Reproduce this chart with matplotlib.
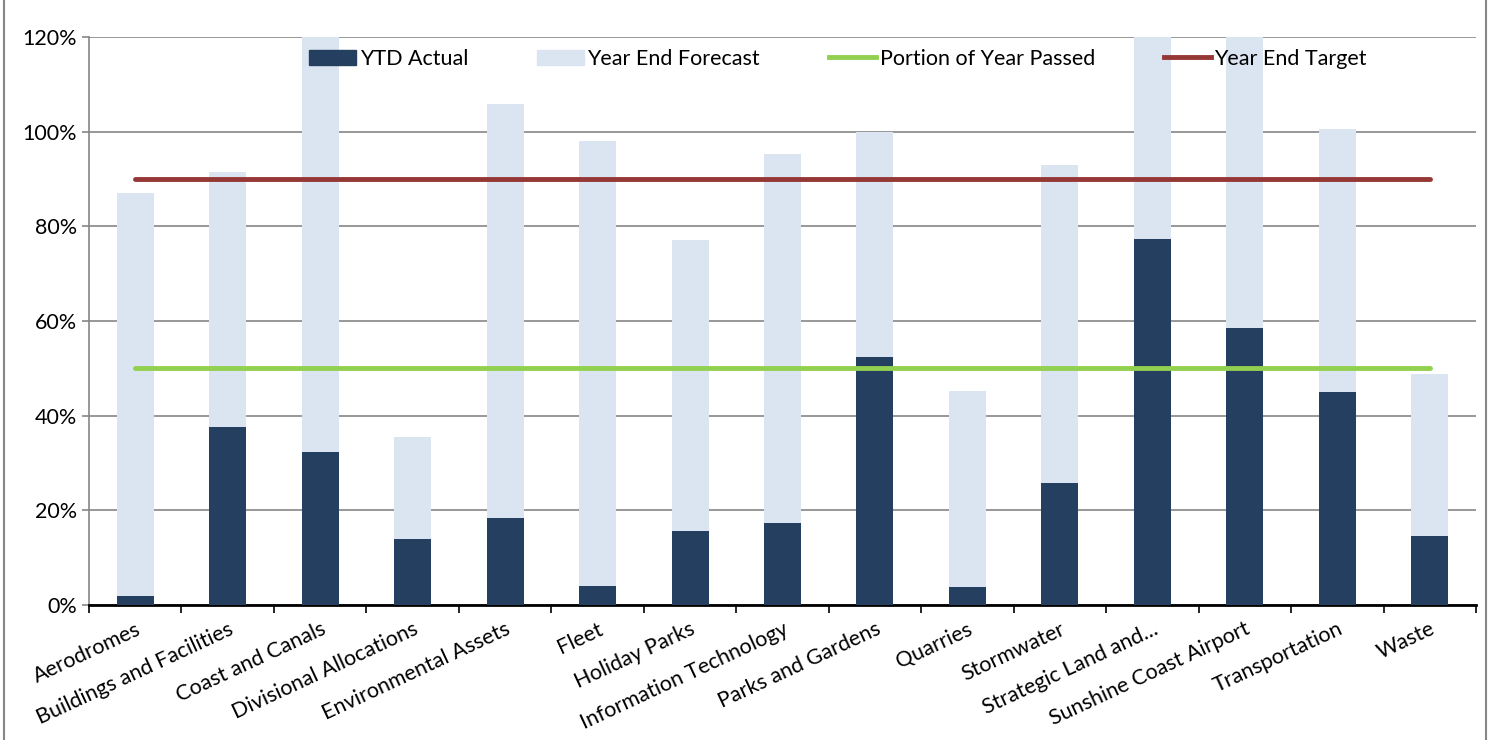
import numpy as np
import matplotlib.pyplot as plt
from matplotlib.ticker import PercentFormatter, FixedLocator
from matplotlib.lines import Line2D

plt.rcParams['font.family'] = ['Lato', 'DejaVu Sans']

categories = ["Aerodromes", "Buildings and Facilities", "Coast and Canals",
              "Divisional Allocations", "Environmental Assets", "Fleet",
              "Holiday Parks", "Information Technology", "Parks and Gardens",
              "Quarries", "Stormwater", "Strategic Land and...",
              "Sunshine Coast Airport", "Transportation", "Waste"]
ytd_actual = [0.019, 0.376, 0.323, 0.139, 0.184, 0.040, 0.156, 0.173,
              0.524, 0.038, 0.258, 0.773, 0.585, 0.450, 0.146]
year_end_forecast = [0.870, 0.915, 1.25, 0.355, 1.058, 0.980, 0.771, 0.953,
                     0.999, 0.452, 0.930, 1.25, 1.25, 1.006, 0.488]
portion_passed = 0.50
year_end_target = 0.90

dark = '#243F60'
light = '#DBE5F1'
green = '#92D050'
red = '#953735'
fs = 15.5

fig = plt.figure(figsize=(14.9, 7.4), dpi=100)
ax = fig.add_axes([89/1490, 1-605/740, (1476-89)/1490, (605-37)/740])

x = np.arange(len(categories))
ax.bar(x, year_end_forecast, width=0.4, color=light, zorder=2)
ax.bar(x, ytd_actual, width=0.4, color=dark, zorder=3)
ax.plot(x, [portion_passed]*len(x), color=green, lw=3.5, solid_capstyle='round', zorder=4)
ax.plot(x, [year_end_target]*len(x), color=red, lw=3.5, solid_capstyle='round', zorder=4)

ax.set_xlim(-0.5, len(x)-0.5)
ax.set_ylim(0, 1.2)
ax.set_yticks(np.arange(0, 1.21, 0.2))
ax.yaxis.set_major_formatter(PercentFormatter(1.0, decimals=0))
ax.yaxis.grid(True, color='#868686', lw=1.2, zorder=0)
ax.set_axisbelow(True)

for s in ['top', 'right']:
    ax.spines[s].set_visible(False)
ax.spines['left'].set_color('#868686')
ax.spines['left'].set_linewidth(1.2)
ax.spines['bottom'].set_color('black')
ax.spines['bottom'].set_linewidth(2)

ax.xaxis.set_major_locator(FixedLocator(np.arange(-0.5, len(x), 1)))
ax.xaxis.set_minor_locator(FixedLocator(x))
ax.set_xticklabels([])
ax.set_xticklabels(categories, minor=True, rotation=25, ha='right',
                   rotation_mode='anchor', fontsize=fs)
ax.tick_params(axis='x', which='major', length=6, width=1.2, direction='out')
ax.tick_params(axis='x', which='minor', length=0, pad=10)
ax.tick_params(axis='y', length=5, width=1.2, colors='#868686', labelcolor='black',
               labelsize=fs)

handles = [plt.Rectangle((0, 0), 1, 1, color=dark),
           plt.Rectangle((0, 0), 1, 1, color=light),
           Line2D([], [], color=green, lw=3.5),
           Line2D([], [], color=red, lw=3.5)]
labels = ['YTD Actual', 'Year End Forecast', 'Portion of Year Passed', 'Year End Target']
ax.legend(handles, labels, ncol=4, loc='center left',
          bbox_to_anchor=(309/1490, 1-59/740), bbox_transform=fig.transFigure,
          borderaxespad=0, borderpad=0, frameon=False, fontsize=fs,
          handlelength=2.2, handletextpad=0.15, columnspacing=3.2)

# outer chart frame
fig.add_artist(Line2D([4/1490, 4/1490], [0, 1], color='#868686', lw=1.5))
fig.add_artist(Line2D([1486/1490, 1486/1490], [0, 1], color='#868686', lw=1.5))

fig.savefig('out.png', dpi=100)
